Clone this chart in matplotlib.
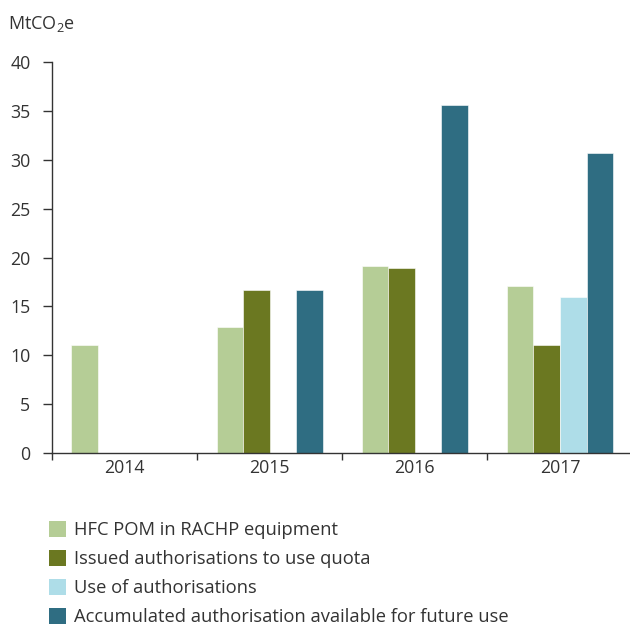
import numpy as np
import matplotlib
matplotlib.use("Agg")
import matplotlib.pyplot as plt
from matplotlib.patches import Patch

plt.rcParams['font.family'] = ['Open Sans', 'DejaVu Sans']
plt.rcParams['mathtext.fontset'] = 'custom'
plt.rcParams['mathtext.rm'] = 'Open Sans'
plt.rcParams['mathtext.it'] = 'Open Sans'

years = ['2014', '2015', '2016', '2017']
hfc_pom = [11.0, 12.9, 19.1, 17.1]
issued = [np.nan, 16.7, 18.9, 11.0]
use_auth = [np.nan, np.nan, np.nan, 16.0]
accumulated = [np.nan, 16.7, 35.6, 30.7]

labels = ['HFC POM in RACHP equipment',
          'Issued authorisations to use quota',
          'Use of authorisations',
          'Accumulated authorisation available for future use']
colors = ['#b5cd96', '#6b7821', '#aedde8', '#2f6d82']
series = [hfc_pom, issued, use_auth, accumulated]

fig = plt.figure(figsize=(6.3, 6.24), dpi=100)
ax = fig.add_axes([52 / 630, 0.274, 1 - 52 / 630 + 0.004, 0.6266])

x = np.arange(len(years))
w = 0.183
for k, (vals, c) in enumerate(zip(series, colors)):
    ax.bar(x + (k - 1.5) * w, vals, width=w, color=c,
           edgecolor='white', linewidth=0.4, zorder=2)

ax.set_xlim(-0.5, 3.5)
ax.set_ylim(0, 40)
ax.set_yticks(range(0, 41, 5))
ax.set_xticks(np.arange(-0.5, 3, 1))
ax.set_xticklabels([])
ax.set_xticks(x, minor=True)
ax.set_xticklabels(years, minor=True)
ax.tick_params(axis='x', which='minor', length=0, pad=4)
ax.tick_params(axis='x', which='major', length=5, width=1, color='#333333')
ax.tick_params(axis='y', length=6.5, width=1, color='#333333', pad=9)
ax.tick_params(labelsize=12.8, labelcolor='#333333', which='both')

for s in ['top', 'right']:
    ax.spines[s].set_visible(False)
for s in ['left', 'bottom']:
    ax.spines[s].set_color('#333333')
    ax.spines[s].set_linewidth(1)

fig.text(8 / 630, 1 - 24 / 624, r'MtCO$_2$e', fontsize=13, color='#333333',
         va='center', ha='left')

handles = [Patch(facecolor=c, edgecolor='none') for c in colors]
fig.legend(handles, labels, loc='upper left', bbox_to_anchor=(36 / 630, 1 - 508 / 624),
           frameon=False, fontsize=13.2, handlelength=0.95, handleheight=0.95,
           handletextpad=0.45, labelspacing=0.59, labelcolor='#333333',
           borderaxespad=0.3)

fig.savefig('out.png', dpi=100)
